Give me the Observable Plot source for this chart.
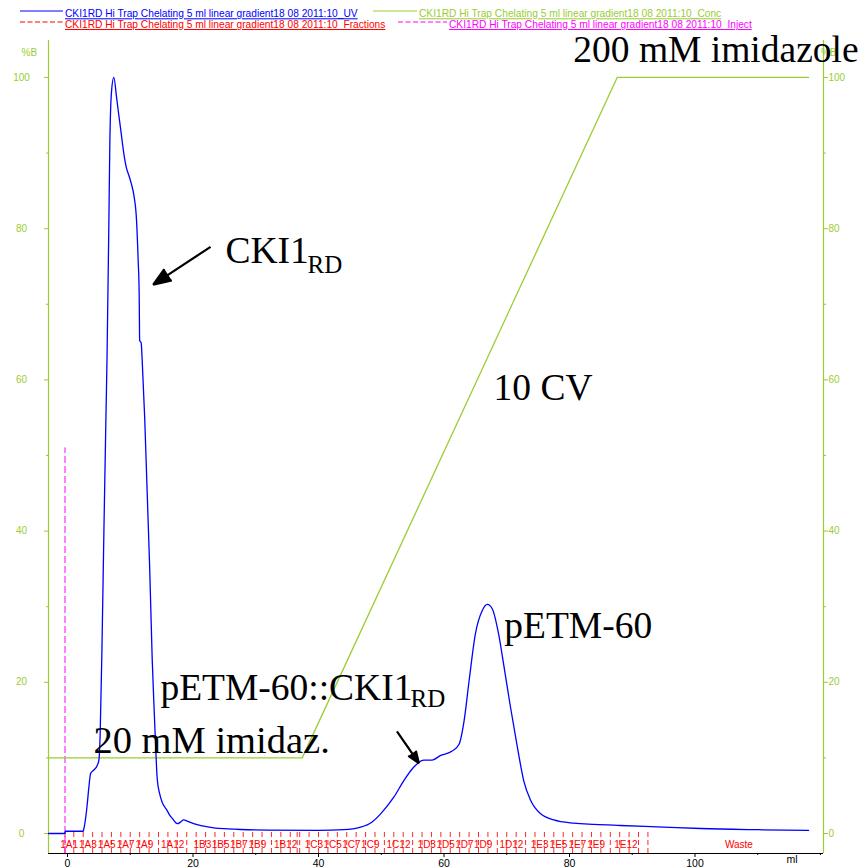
<!DOCTYPE html>
<html><head><meta charset="utf-8">
<script src="https://cdn.jsdelivr.net/npm/d3@7"></script>
<script src="https://cdn.jsdelivr.net/npm/@observablehq/plot@0.6"></script>
<style>
body{margin:0;background:#fff;}
#wrap{position:relative;width:861px;height:868px;overflow:hidden;}
#legend{position:absolute;left:0;top:0;}
#chart{position:absolute;left:0;top:0;}
</style></head><body><div id="wrap"><div id="chart"></div><div id="legend"></div></div>
<script>
// ---- data ----
const uvVol = [-3.03, -0.4, -0.35, 2.5, 2.6, 3.1, 3.4, 3.67, 4.2, 4.73, 5.0, 5.2, 5.5, 5.8, 6.1, 6.3, 6.58, 6.74, 7.0, 7.38, 7.8, 8.1, 8.45, 9.0, 9.4, 9.8, 10.15, 10.6, 11.0, 11.26, 11.42, 11.5, 11.74, 11.9, 12.3, 12.7, 13.1, 13.5, 13.8, 14.0, 14.3, 14.7, 15.1, 15.5, 15.9, 16.3, 16.7, 17.5, 18.0, 18.5, 19.2, 20.1, 21.5, 23.3, 25.5, 27.6, 32, 40, 44, 46.7, 48.5, 49.9, 52.0, 53.6, 55.2, 56.8, 58.1, 59.4, 61.3, 62.4, 63.2, 64.0, 65.0, 66.1, 66.9, 67.7, 68.7, 69.5, 70.6, 71.7, 72.7, 73.8, 75.4, 77.5, 80.7, 84, 88.1, 95, 100.9, 110, 118.1];
const uvVal = [0, 0, 0.3, 0.3, 0.6, 3.5, 6.1, 7.9, 8.4, 9.0, 9.7, 13, 25, 40, 54, 63, 80, 91, 98, 100, 97.5, 95.5, 93.3, 89.8, 88.0, 87.0, 86.0, 84.3, 81.1, 75.8, 71.4, 65.2, 64.9, 62.6, 55, 45, 35, 23, 16.5, 12.4, 7.2, 5.2, 4.1, 3.5, 3.0, 2.4, 2.0, 1.3, 1.5, 1.8, 1.6, 1.3, 1.0, 0.75, 0.62, 0.53, 0.45, 0.42, 0.5, 0.84, 1.5, 2.6, 4.8, 7.0, 8.8, 9.7, 9.7, 10.3, 10.9, 11.8, 14.9, 20.2, 26.4, 29.5, 30.3, 29.7, 26.4, 22.4, 16.7, 11.4, 7.0, 4.4, 2.6, 1.8, 1.36, 1.2, 1.06, 0.85, 0.66, 0.5, 0.4];

const concVol = [-3.03, 37.4, 87.6, 118.1];
const concVal = [10, 10, 100, 100];

const injectVol = [-0.4];
const injectTop = 51;

const fracTicks = [-0.4, 1.0, 2.5, 4.0, 5.5, 7.0, 8.5, 10.0, 11.5, 13.0, 14.5, 16.0, 17.5, 19.0, 20.5, 22.0, 23.5, 25.0, 26.5, 28.0, 29.5, 31.0, 32.5, 34.0, 35.5, 36.6, 37.0, 38.5, 40.0, 41.5, 43.0, 44.5, 46.0, 47.5, 49.0, 50.5, 52.0, 53.5, 55.0, 56.5, 58.0, 59.5, 61.0, 62.5, 64.0, 65.5, 67.0, 68.5, 70.0, 71.5, 73.0, 74.5, 76.0, 77.5, 79.0, 80.5, 82.0, 83.5, 85.0, 86.5, 88.0, 89.5, 91.0, 92.5];
const fracTickTop = 0.4;
const fracLabels = ["1A1","1A3","1A5","1A7","1A9","1A12","1B3","1B5","1B7","1B9","1B12","1C3","1C5","1C7","1C9","1C12","1D3","1D5","1D7","1D9","1D12","1E3","1E5","1E7","1E9","1E12","Waste"];
const fracLabelVol = [0.25, 3.25, 6.25, 9.25, 12.25, 16.75, 21.5, 24.4, 27.3, 30.25, 34.75, 39.25, 42.25, 45.25, 48.25, 52.75, 57.25, 60.25, 63.25, 66.25, 70.75, 75.25, 78.25, 81.25, 84.25, 89.0, 107.0];

const yTicks = [0, 20, 40, 60, 80, 100];
const yMinor = [10, 30, 50, 70, 90];
const xTicks = [0, 20, 40, 60, 80, 100];
const xMinor = [10, 30, 50, 70, 90, 110, 120];

const legendLabels = [
  "CKI1RD Hi Trap Chelating 5 ml linear gradient18 08 2011:10_UV",
  "CKI1RD Hi Trap Chelating 5 ml linear gradient18 08 2011:10_Conc",
  "CKI1RD Hi Trap Chelating 5 ml linear gradient18 08 2011:10_Fractions",
  "CKI1RD Hi Trap Chelating 5 ml linear gradient18 08 2011:10_Inject"
];

const annoText = ["200 mM imidazole", "CKI1", "RD", "10 CV", "pETM-60", "pETM-60::CKI1", "RD", "20 mM imidaz."];
const annoX = [80.6, 25.18, 38.25, 67.9, 69.6, 14.8, 54.66, 4.14];
const annoY = [102.0, 75.5, 74.2, 57.3, 25.8, 17.6, 16.7, 10.7];
const annoSize = [37.5, 37.5, 25, 37.5, 37.5, 37.5, 25, 38.5];

const arrowX1 = [22.8, 52.5];
const arrowY1 = [77.6, 13.5];
const arrowX2 = [13.66, 56.0];
const arrowY2 = [72.6, 9.3];

// ---- build ----
const GREEN = "#9acd32", BLUE = "#0000ff", RED = "#ff0000", MAGENTA = "#ff00ff";
const xDomain = [-3.03, 120.48];
const yDomain = [-2.646, 104.89];

const uv = uvVol.map((v, i) => ({x: v, y: uvVal[i]}));
const conc = concVol.map((v, i) => ({x: v, y: concVal[i]}));
const fracLab = fracLabels.map((t, i) => ({t, x: fracLabelVol[i]}));
const anno = annoText.map((t, i) => ({t, x: annoX[i], y: annoY[i], s: annoSize[i]}));
const arrows = arrowX1.map((v, i) => ({x1: v, y1: arrowY1[i], x2: arrowX2[i], y2: arrowY2[i]}));

const chart = Plot.plot({
  width: 861, height: 868,
  marginLeft: 48, marginRight: 38, marginTop: 40, marginBottom: 15,
  x: {domain: xDomain, axis: null},
  y: {domain: yDomain, axis: null},
  style: {fontFamily: "Arial, 'Liberation Sans', sans-serif", background: "white", overflow: "visible"},
  marks: [
    // axes lines
    Plot.ruleX([xDomain[0]], {stroke: GREEN, strokeWidth: 1.2}),
    Plot.ruleX([xDomain[1]], {stroke: GREEN, strokeWidth: 1.2}),
    Plot.ruleY([yDomain[0]], {stroke: "black", strokeWidth: 1.2}),
    Plot.axisY(yTicks, {anchor: "left", tickSize: 4, tickPadding: 23, textAnchor: "middle", color: GREEN, fontSize: 10, label: null}),
    Plot.axisY(yMinor, {anchor: "left", tickSize: 2, tickFormat: () => "", color: GREEN, label: null}),
    Plot.axisY(yTicks, {anchor: "right", tickSize: 4, tickPadding: 1, color: GREEN, fontSize: 10, label: null}),
    Plot.axisY(yMinor, {anchor: "right", tickSize: 2, tickFormat: () => "", color: GREEN, label: null}),
    Plot.text(["%B"], {frameAnchor: "top-left", dx: -27, dy: 8, fill: GREEN, fontSize: 10}),
    Plot.text(["%B"], {frameAnchor: "top-right", dx: 13, dy: 8, fill: GREEN, fontSize: 10}),
    Plot.axisX(xTicks, {anchor: "bottom", tickSize: 4, tickPadding: 2, color: "black", fontSize: 10.5, label: null}),
    Plot.axisX(xMinor, {anchor: "bottom", tickSize: 2, tickFormat: () => "", color: "black", label: null}),
    Plot.text(["ml"], {frameAnchor: "bottom-right", dx: -26, dy: 9, fill: "black", fontSize: 10.5}),
    // fractions
    Plot.ruleX(fracTicks, {y1: yDomain[0], y2: fracTickTop, stroke: RED, strokeOpacity: 0.85, strokeDasharray: "5,3"}),
    Plot.text(fracLab, {x: "x", text: "t", frameAnchor: "bottom", dy: -6, fill: RED, fontSize: 10}),
    // inject
    Plot.ruleX(injectVol, {y1: yDomain[0], y2: injectTop, stroke: MAGENTA, strokeDasharray: "7,3", strokeWidth: 1}),
    // conc
    Plot.line(conc, {x: "x", y: "y", stroke: GREEN, strokeWidth: 1.3}),
    // UV
    Plot.line(uv, {x: "x", y: "y", stroke: BLUE, strokeWidth: 1.3, curve: "monotone-x"}),
    // arrows
    Plot.arrow(arrows, {x1: "x1", y1: "y1", x2: "x2", y2: "y2", stroke: "black", fill: "black", strokeWidth: 2.2, headLength: 13, headAngle: 42, strokeLinecap: "butt"}),
    // annotations
    Plot.text(anno, {x: "x", y: "y", text: "t", fontSize: "s", textAnchor: "start", lineAnchor: "bottom", fill: "black", fontFamily: "'Liberation Serif', 'Times New Roman', serif"})
  ]
});
document.getElementById("chart").appendChild(chart);

// legend
const leg = d3.create("svg").attr("width", 861).attr("height", 32)
  .style("font-family", "Arial, 'Liberation Sans', sans-serif");
const legLayout = [
  {c: BLUE, dash: null, lx: [20, 63], tx: 65, ly: 11, ty: 17.3},
  {c: GREEN, dash: null, lx: [373, 417], tx: 419, ly: 11, ty: 17.3},
  {c: RED, dash: "5,2.5", lx: [20, 63], tx: 65, ly: 22, ty: 28},
  {c: MAGENTA, dash: "5,2.5", lx: [398, 447], tx: 449, ly: 22, ty: 28}
];
legLayout.forEach((d, i) => {
  leg.append("line").attr("x1", d.lx[0]).attr("x2", d.lx[1]).attr("y1", d.ly).attr("y2", d.ly)
    .attr("stroke", d.c).attr("stroke-width", 1.2).attr("stroke-dasharray", d.dash);
  leg.append("text").attr("x", d.tx).attr("y", d.ty).attr("fill", d.c).attr("font-size", 10.2)
    .style("text-decoration", "underline").text(legendLabels[i]);
});
document.getElementById("legend").appendChild(leg.node());
</script>
</body></html>
